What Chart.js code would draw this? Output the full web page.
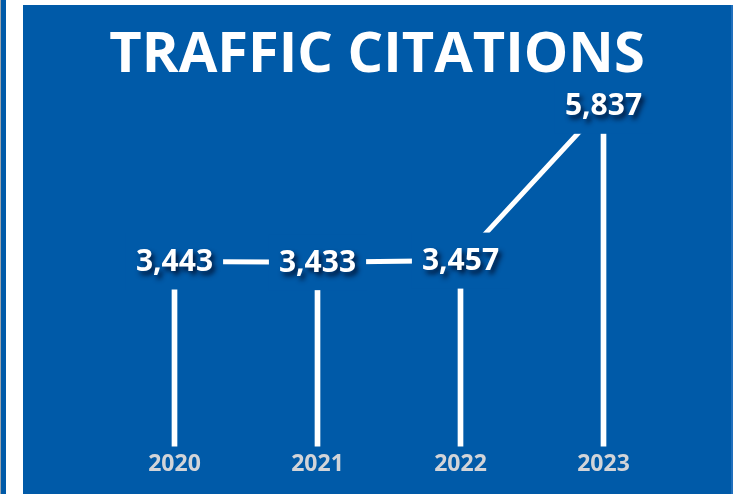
<!DOCTYPE html>
<html lang="en">
<head>
  <meta charset="UTF-8" />
  <title>Traffic Citations</title>
  <script src="https://cdn.jsdelivr.net/npm/chart.js"></script>
  <style>
    html, body { margin: 0; padding: 0; background: #fff; overflow: hidden; }
    body { width: 745px; height: 494px; position: relative; }
    .strip { position: absolute; left: 0; top: 0; width: 5px; height: 494px; background: #005aa8; border-left: 1px solid #9aa4ad; }
    .panel { position: absolute; left: 23px; top: 5px; width: 708px; height: 489px; background: #005aa8; border-right: 2px solid #1f6fbd; }
  </style>
</head>
<body>
  <div class="strip"></div>
  <div class="panel"><canvas id="chart"></canvas></div>

  <script>
    const years = ['2020', '2021', '2022', '2023'];
    const citations = [3443, 3433, 3457, 5837];
    const titleText = 'TRAFFIC CITATIONS';

    const blue = '#005aa8';

    // labels sit on the points; a blue box behind each one cuts the line and stem
    const pointLabels = {
      id: 'pointLabels',
      afterDatasetsDraw(chart) {
        const ctx = chart.ctx;
        const meta = chart.getDatasetMeta(1);
        ctx.save();
        ctx.font = 'bold 30px "Open Sans"';
        ctx.textAlign = 'center';
        ctx.textBaseline = 'middle';
        meta.data.forEach((pt, i) => {
          const txt = citations[i].toLocaleString('en-US');
          const w = ctx.measureText(txt).width;
          ctx.fillStyle = blue;
          ctx.fillRect(pt.x - w / 2 - 10, pt.y - 28, w + 20, 56);
        });
        meta.data.forEach((pt, i) => {
          const txt = citations[i].toLocaleString('en-US');
          ctx.shadowColor = 'rgba(0,15,45,0.9)';
          ctx.shadowOffsetX = 3;
          ctx.shadowOffsetY = 4;
          ctx.shadowBlur = 5;
          ctx.fillStyle = '#fff';
          ctx.fillText(txt, pt.x, pt.y + 1);
        });
        ctx.restore();
      }
    };

    new Chart(document.getElementById('chart'), {
      data: {
        labels: years,
        datasets: [
          { type: 'bar', data: citations, backgroundColor: '#fff', barThickness: 5, order: 2 },
          { type: 'line', data: citations, borderColor: '#fff', borderWidth: 5, pointRadius: 0, tension: 0, order: 1 }
        ]
      },
      options: {
        responsive: true,
        maintainAspectRatio: false,
        animation: false,
        layout: { padding: { left: 0, right: 0, top: 0, bottom: 12 } },
        plugins: {
          legend: { display: false },
          tooltip: { enabled: false },
          title: {
            display: true,
            text: titleText,
            color: '#fff',
            font: { family: 'Open Sans', size: 56, weight: 'bold' },
            padding: { top: 17, bottom: 6 }
          }
        },
        scales: {
          x: {
            offset: true,
            grid: { display: false, drawTicks: false },
            border: { display: false },
            ticks: { color: '#d2d4d8', padding: 4, font: { family: 'Open Sans', size: 23, weight: 'bold' } },
            afterFit(scale) { scale.paddingLeft = 80; scale.paddingRight = 56; }
          },
          y: { display: false, min: 600, max: 6000 }
        }
      },
      plugins: [pointLabels]
    });
  </script>
</body>
</html>
